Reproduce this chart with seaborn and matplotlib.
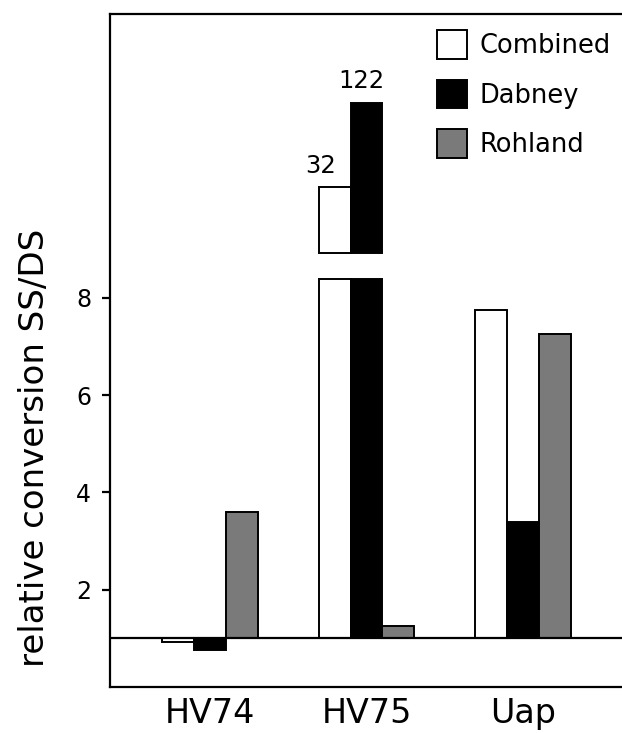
import numpy as np
import pandas as pd
import matplotlib
matplotlib.use("Agg")
import matplotlib.pyplot as plt
import seaborn as sns

# ---- data ----
groups = ["HV74", "HV75", "Uap"]
methods = ["Combined", "Dabney", "Rohland"]
combined = [0.93, 32, 7.75]
dabney = [0.77, 122, 3.4]
rohland = [3.6, 1.25, 7.25]
yticks = [2, 4, 6, 8]
baseline = 1.0

# axis break settings (data units)
B1 = 8.4     # lower segment is cut here
B2 = 11.3    # upper segment starts here
G = 0.52     # display height of the gap
C = 3.0      # display units per decade above the break


def fwd(v):
    v = np.asarray(v, dtype=float)
    mid = B1 + (v - B1) / (B2 - B1) * G
    up = B1 + G + C * np.log10(np.maximum(v, 1e-9) / B2)
    return np.where(v <= B1, v, np.where(v <= B2, mid, up))


def inv(d):
    d = np.asarray(d, dtype=float)
    mid = B1 + (d - B1) / G * (B2 - B1)
    up = B2 * 10 ** ((d - B1 - G) / C)
    return np.where(d <= B1, d, np.where(d <= B1 + G, mid, up))


df = pd.DataFrame({
    "group": np.repeat(groups, len(methods)),
    "method": methods * len(groups),
    "value": np.array([combined, dabney, rohland]).T.ravel(),
})
df["lower"] = np.minimum(df["value"], B1) - baseline
upper = df[df["value"] > B1].copy()
upper["upper"] = upper["value"] - B2

palette = {"Combined": "white", "Dabney": "black", "Rohland": "#7a7a7a"}

fig = plt.figure(figsize=(6.22, 7.33), dpi=100)
ax = fig.add_axes([110 / 622, 1 - 687 / 733, (625 - 110) / 622, (687 - 14) / 733])

sns.barplot(data=df, x="group", y="lower", hue="method", order=groups,
            hue_order=methods, palette=palette, saturation=1, width=0.61,
            errorbar=None, bottom=baseline, edgecolor="black", linewidth=1.4,
            legend=False, ax=ax)
n_lower = len(ax.containers)
sns.barplot(data=upper, x="group", y="upper", hue="method", order=groups,
            hue_order=methods, palette=palette, saturation=1, width=0.61,
            errorbar=None, bottom=B2, edgecolor="black", linewidth=1.4,
            legend=False, ax=ax)

# value labels on the broken bars (slightly shifted left, as in the original)
label_shift = {"Combined": -10, "Dabney": -4}
for cont, m in zip(ax.containers[n_lower:], methods):
    vals = []
    for p in cont.patches:
        vals.append(f"{p.get_y() + p.get_height():.0f}" if np.isfinite(p.get_height()) else "")
    anns = ax.bar_label(cont, labels=vals, padding=7, fontsize=17.5)
    for a in anns:
        x0, y0 = a.xyann
        a.xyann = (x0 + label_shift.get(m, 0), y0)

ax.set_yscale("function", functions=(fwd, inv))
ax.axhline(baseline, color="black", linewidth=1.6, zorder=3)
ax.set_ylim(0, float(inv(13.84)))
ax.set_xlim(-0.639, 2.652)
ax.set_yticks(yticks)
ax.set_yticklabels([str(t) for t in yticks])
ax.yaxis.set_minor_locator(matplotlib.ticker.NullLocator())

for s in ax.spines.values():
    s.set_linewidth(1.6)
ax.tick_params(axis="y", length=6, width=1.6, labelsize=17, pad=7.5)
ax.tick_params(axis="x", length=0, labelsize=24, pad=7)
ax.set_xlabel("")
ax.set_ylabel("relative conversion SS/DS", fontsize=24.5)
ax.yaxis.set_label_coords(-0.115, 0.355)

handles = [ax.containers[i] for i in range(len(methods))]
ax.legend(handles, methods, loc="upper left", bbox_to_anchor=(437 / 622, 1 - 30 / 733),
          bbox_transform=fig.transFigure, frameon=False, fontsize=18.5,
          handlelength=1.15, handleheight=1.35, handletextpad=0.5,
          labelspacing=0.8, borderpad=0, borderaxespad=0)

fig.savefig("out.png", dpi=100)
